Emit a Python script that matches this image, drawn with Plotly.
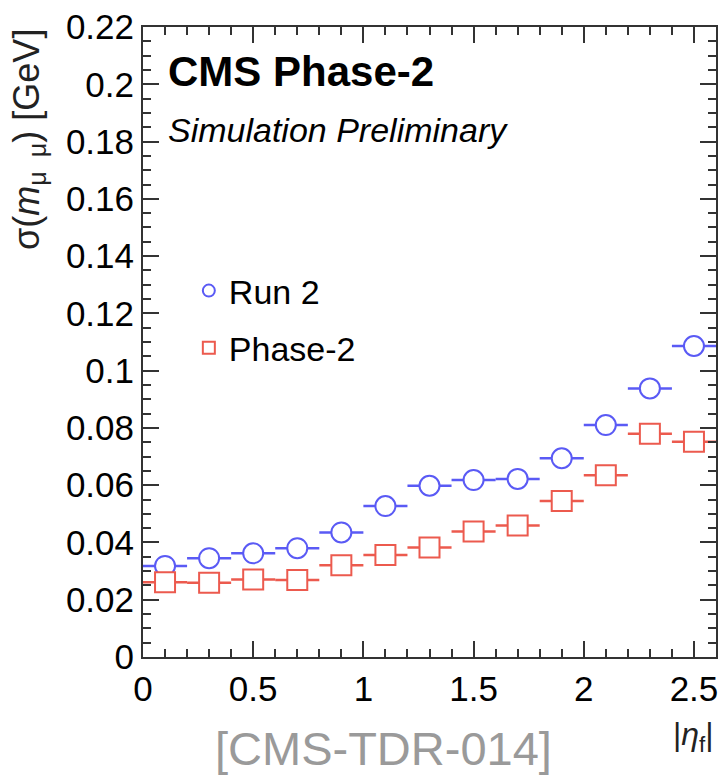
import plotly.graph_objects as go

# bin centres in |eta_f| (bins of width 0.2)
eta_centers = [0.1, 0.3, 0.5, 0.7, 0.9, 1.1, 1.3, 1.5, 1.7, 1.9, 2.1, 2.3, 2.5]
bin_half_width = [0.1] * 13

run2_sigma = [0.0318, 0.0345, 0.0362, 0.0380, 0.0435, 0.0527, 0.0598, 0.0618,
              0.0622, 0.0694, 0.0810, 0.0938, 0.1086]
phase2_sigma = [0.0261, 0.0259, 0.0271, 0.0269, 0.0320, 0.0356, 0.0382, 0.0438,
                0.0459, 0.0545, 0.0635, 0.0780, 0.0752]

y_tickvals = [0, 0.02, 0.04, 0.06, 0.08, 0.1, 0.12, 0.14, 0.16, 0.18, 0.2, 0.22]
y_ticktext = ["0", "0.02", "0.04", "0.06", "0.08", "0.1", "0.12", "0.14",
              "0.16", "0.18", "0.2", "0.22"]
x_tickvals = [0, 0.5, 1, 1.5, 2, 2.5]
x_ticktext = ["0", "0.5", "1", "1.5", "2", "2.5"]

BLUE = "#5a5af5"
RED = "#ec5a4e"
FONT = "Liberation Sans, Arial, Helvetica, sans-serif"

fig = go.Figure()
fig.add_trace(go.Scatter(
    x=eta_centers, y=run2_sigma, mode="markers", name="Run 2",
    legendgroup="run2",
    marker=dict(symbol="circle", size=20, color="white",
                line=dict(color=BLUE, width=2)),
    error_x=dict(type="data", array=bin_half_width, width=0,
                 thickness=2.5, color=BLUE),
))
fig.add_trace(go.Scatter(
    x=eta_centers, y=phase2_sigma, mode="markers", name="Phase-2",
    legendgroup="phase2",
    marker=dict(symbol="square", size=20, color="white",
                line=dict(color=RED, width=2)),
    error_x=dict(type="data", array=bin_half_width, width=0,
                 thickness=2.5, color=RED),
))

axis_common = dict(
    showline=True, linecolor="#333333", linewidth=2, mirror="allticks",
    ticks="inside", tickwidth=1.5, tickcolor="#333333",
    showgrid=False, zeroline=False,
    tickfont=dict(family=FONT, size=35, color="black"),
)

fig.update_xaxes(
    range=[0, 2.6], tickvals=x_tickvals, ticktext=x_ticktext, ticklen=16,
    minor=dict(ticks="inside", dtick=0.1, ticklen=8, tickwidth=1.5,
               tickcolor="#333333", showgrid=False),
    **axis_common,
)
fig.update_yaxes(
    range=[0, 0.22], tickvals=y_tickvals, ticktext=y_ticktext, ticklen=16,
    minor=dict(ticks="inside", dtick=0.005, ticklen=8, tickwidth=1.5,
               tickcolor="#333333", showgrid=False),
    **axis_common,
)

fig.update_layout(
    width=722, height=776,
    margin=dict(l=143, r=4, t=27, b=119),
    paper_bgcolor="white", plot_bgcolor="white",
    font=dict(family=FONT, color="black"),
    showlegend=True,
    legend=dict(x=0.08, y=0.627, xanchor="left", yanchor="top",
                bgcolor="rgba(0,0,0,0)", font=dict(family=FONT, size=34),
                tracegroupgap=10, itemsizing="constant"),
)

fig.add_annotation(
    xref="paper", yref="paper", x=0.04, y=0.97, xanchor="left", yanchor="top",
    text="<b>CMS Phase-2</b>", showarrow=False,
    font=dict(family=FONT, size=42, color="black"),
)
fig.add_annotation(
    xref="paper", yref="paper", x=0.04, y=0.87, xanchor="left", yanchor="top",
    text="<i>Simulation Preliminary</i>", showarrow=False,
    font=dict(family=FONT, size=34, color="black"),
)
fig.add_annotation(
    xref="paper", yref="paper", x=-0.2, y=1.0, xanchor="center", yanchor="top",
    text="σ(<i>m</i><sub>μ  μ</sub>) [GeV]", textangle=-90, showarrow=False,
    font=dict(family=FONT, size=36, color="#222222"),
)
fig.add_annotation(
    xref="paper", yref="paper", x=1.0, y=-0.09, xanchor="right", yanchor="top",
    text="|<i>η</i><sub>f</sub>|", showarrow=False,
    font=dict(family=FONT, size=32, color="#222222"),
)
fig.add_annotation(
    xref="paper", yref="paper", x=0.42, y=-0.1, xanchor="center", yanchor="top",
    text="[CMS-TDR-014]", showarrow=False,
    font=dict(family=FONT, size=47, color="#9a9a9a"),
)

fig.write_html(
    "out.html",
    config={"displayModeBar": False},
    post_script="document.body.style.margin='0px';document.body.style.overflow='hidden';",
)
